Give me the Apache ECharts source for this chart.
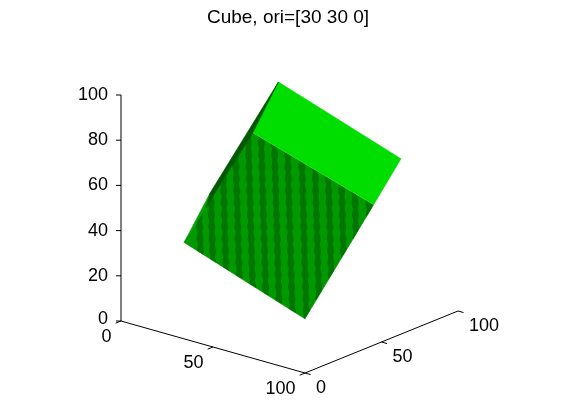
<!DOCTYPE html>
<html>
<head>
<meta charset="utf-8">
<style>html,body{margin:0;padding:0;background:#fff}#c{width:561px;height:420px}</style>
<script src="https://cdn.jsdelivr.net/npm/echarts@6/dist/echarts.min.js"></script>
</head>
<body>
<div id="c"></div>
<script>
// ---- chart text and ticks
const titleText = 'Cube, ori=[30 30 0]';
const xTicks = [0, 50, 100];
const yTicks = [0, 50, 100];
const zTicks = [0, 20, 40, 60, 80, 100];
const axisMax = 100;

// ---- cube corners, in data units [x, y, z]
const cubeBottom = [75, 30, 10];
const cubeLeft = [26, 10, 38];
const cubeMidRight = [80, 69, 51];
const cubeMidLeft = [31, 49, 77];
const cubeTop = [24, 74, 91];
const cubeRight = [74, 94, 63];
const cubeKinkOuter = [27, 26, 56];
const cubeKinkInner = [25, 25.5, 49];

// ---- dark stripes of the front face: horizontal position on the view plane
const darkStripes = [78, 90, 103, 116, 129, 142, 155, 168, 182, 195, 208, 221, 234, 248];

// ---- view of the 3-D box: how much one data unit moves on the view plane
const view = { xu: 1.84, yu: 1.53, xv: -0.52, yv: 0.62, zv: 2.26 };
const project = p => [view.xu * p[0] + view.yu * p[1], view.xv * p[0] + view.yv * p[1] + view.zv * p[2]];

function clipConvex(subject, clip) {
  let out = subject;
  const area = clip.reduce((s, p, i) => { const q = clip[(i + 1) % clip.length]; return s + p[0] * q[1] - q[0] * p[1]; }, 0);
  const sign = area > 0 ? 1 : -1;
  for (let i = 0; i < clip.length; i++) {
    const a = clip[i], b = clip[(i + 1) % clip.length];
    const side = p => sign * ((b[0] - a[0]) * (p[1] - a[1]) - (b[1] - a[1]) * (p[0] - a[0]));
    const input = out; out = [];
    for (let j = 0; j < input.length; j++) {
      const p = input[j], q = input[(j + 1) % input.length];
      const sp = side(p), sq = side(q);
      if (sp >= 0) out.push(p);
      if ((sp >= 0) !== (sq >= 0)) {
        const t = sp / (sp - sq);
        out.push([p[0] + t * (q[0] - p[0]), p[1] + t * (q[1] - p[1])]);
      }
    }
    if (!out.length) break;
  }
  return out;
}

const poly = (api, pts3, fill, stroke) => ({
  type: 'polygon', silent: true,
  shape: { points: pts3.map(p => api.coord(project(p))) },
  style: { fill, stroke: stroke || fill, lineWidth: 0.6 }
});
const line = (api, a, b) => {
  const p = api.coord(project(a)), q = api.coord(project(b));
  return { type: 'line', silent: true, shape: { x1: p[0], y1: p[1], x2: q[0], y2: q[1] }, style: { stroke: '#000', lineWidth: 1 } };
};
const label = (api, pos, dx, dy, text, align) => {
  const p = api.coord(project(pos));
  return { type: 'text', silent: true, x: p[0] + dx, y: p[1] + dy,
    style: { text: String(text), fill: '#000', font: '18px "Liberation Sans", Arial, sans-serif', align, verticalAlign: 'middle' } };
};

function renderAll(params, api) {
  const kids = [];
  // axes
  kids.push(line(api, [0, 0, 0], [0, 0, axisMax]));
  kids.push(line(api, [0, 0, 0], [axisMax, 0, 0]));
  kids.push(line(api, [axisMax, 0, 0], [axisMax, axisMax, 0]));
  zTicks.forEach(z => {
    const p = api.coord(project([0, 0, z]));
    kids.push({ type: 'line', silent: true, shape: { x1: p[0] - 5, y1: p[1], x2: p[0], y2: p[1] }, style: { stroke: '#000', lineWidth: 1 } });
    kids.push(label(api, [0, 0, z], -13, z === 0 ? -2 : 0, z, 'right'));
  });
  xTicks.forEach(x => {
    kids.push(line(api, [x, 0, 0], [x, -3.5, 0]));
    kids.push(label(api, [x, 0, 0], -9.5, 16, x, 'right'));
  });
  yTicks.forEach(y => {
    kids.push(line(api, [axisMax, y, 0], [axisMax + 3, y, 0]));
    kids.push(label(api, [axisMax, y, 0], 11, 15, y, 'left'));
  });
  // cube faces
  kids.push(poly(api, [cubeTop, cubeRight, cubeMidRight, cubeMidLeft], '#00de00'));
  kids.push(poly(api, [cubeMidLeft, cubeMidRight, cubeBottom, cubeLeft], '#009a00', '#007c00'));
  kids.push(poly(api, [cubeLeft, cubeKinkOuter, cubeKinkInner], '#00a000'));
  // stripes
  const facePx = [cubeMidLeft, cubeMidRight, cubeBottom, cubeLeft].map(p => api.coord(project(p)));
  const top = Math.min.apply(null, facePx.map(p => p[1]));
  const bottom = Math.max.apply(null, facePx.map(p => p[1]));
  const refY = api.coord([0, 121])[1];
  const halfWidth = 3, lean = 0.03;
  darkStripes.forEach(u => {
    const cx = api.coord([u, 0])[0];
    const left = [], right = [];
    let flip = 0;
    for (let y = top - 2; y <= bottom + 6; y += 6) {
      const c = cx + (y - refY) * lean;
      const w = (flip++ % 2) ? 0.6 : -0.6;
      left.push([c - halfWidth + w, y]);
      right.unshift([c + halfWidth - w, y]);
    }
    const pts = clipConvex(left.concat(right), facePx);
    if (pts.length > 2) kids.push({ type: 'polygon', silent: true, shape: { points: pts }, style: { fill: '#007600' } });
  });
  // dark left sliver
  kids.push(poly(api, [cubeTop, cubeKinkOuter, cubeKinkInner, cubeMidLeft], '#005800'));
  // bright seam between top and front
  const s = api.coord(project(cubeMidLeft)), e = api.coord(project(cubeMidRight));
  kids.push({ type: 'line', silent: true, shape: { x1: s[0], y1: s[1], x2: e[0], y2: e[1] }, style: { stroke: '#2ee82e', lineWidth: 1 } });
  return { type: 'group', children: kids };
}

const chart = echarts.init(document.getElementById('c'), null, { renderer: 'canvas' });
chart.setOption({
  animation: false,
  backgroundColor: '#fff',
  title: {
    text: titleText, left: 283, top: 3, textAlign: 'center',
    textStyle: { fontFamily: '"Liberation Sans", Arial, sans-serif', fontSize: 19, fontWeight: 'normal', color: '#000' }
  },
  grid: { left: 0, right: 0, top: 0, bottom: 0 },
  xAxis: { type: 'value', min: -121, max: 440, show: false },
  yAxis: { type: 'value', min: -99, max: 321, show: false },
  series: [{ type: 'custom', coordinateSystem: 'cartesian2d', clip: false, data: [[0, 0]], renderItem: renderAll }]
});
</script>
</body>
</html>
